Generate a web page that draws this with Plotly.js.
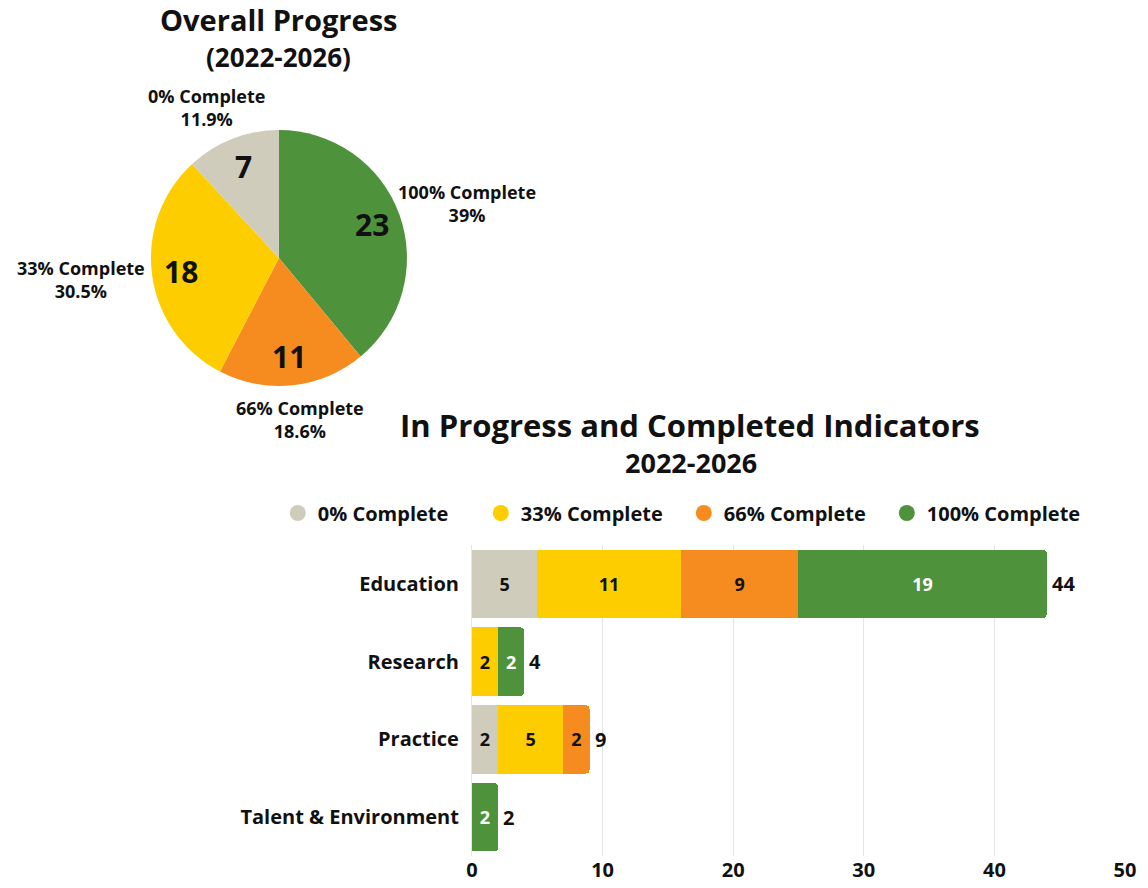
<!DOCTYPE html>
<html>
<head>
<meta charset="utf-8">
<script src="https://cdn.plot.ly/plotly-3.0.1.min.js"></script>
<style>
  html, body { margin: 0; padding: 0; background: #ffffff; }
  #chart { width: 1148px; height: 888px; }
</style>
</head>
<body>
<div id="chart"></div>
<script>
// Completion levels, shared by the pie and the stacked bars
const levels = ['0% Complete', '33% Complete', '66% Complete', '100% Complete'];
const levelColors = ['#cfccbc', '#fecd00', '#f68b1f', '#4f923c'];

// Overall indicator counts per completion level
const overallCounts = [7, 18, 11, 23];

// Indicator counts by area
const areas = ['Education', 'Research', 'Practice', 'Talent & Environment'];
const pct0 = [5, 0, 2, 0];
const pct33 = [11, 2, 5, 0];
const pct66 = [9, 0, 2, 0];
const pct100 = [19, 2, 0, 2];

const FONT = '"Open Sans", Lato, sans-serif';
const INK = '#111111';
const W = 1148, H = 888;

// Pie slices go clockwise from 12 o'clock: 100%, 66%, 33%, 0%
const pieOrder = [3, 2, 1, 0];
const pieLabels = pieOrder.map(i => levels[i]);
const pieValues = pieOrder.map(i => overallCounts[i]);
const pieColors = pieOrder.map(i => levelColors[i]);
const pieDomain = { x: [0.1315, 0.3545], y: [0.5653, 0.8536] };

const pieTrace = {
  type: 'pie',
  labels: pieLabels,
  values: pieValues,
  sort: false,
  direction: 'clockwise',
  rotation: 0,
  domain: pieDomain,
  marker: { colors: pieColors, line: { width: 0 } },
  textinfo: 'none',
  showlegend: false,
  hoverinfo: 'label+value+percent'
};

// Slice labels: counts inside, name + share outside, each placed on the slice's mid angle
function pctText(v) {
  let s = (v * 100).toPrecision(3);
  if (s.indexOf('.') !== -1) s = s.replace(/[.]?0+$/, '');
  return s + '%';
}
const pieCx = (pieDomain.x[0] + pieDomain.x[1]) / 2 * W;
const pieCy = (1 - (pieDomain.y[0] + pieDomain.y[1]) / 2) * H;
const pieR = Math.min((pieDomain.x[1] - pieDomain.x[0]) * W, (pieDomain.y[1] - pieDomain.y[0]) * H) / 2;
const pieTotal = pieValues.reduce((a, b) => a + b, 0);
const pieAnnotations = [];
let acc = 0;
pieValues.forEach((v, k) => {
  const mid = (acc + v / 2) / pieTotal * 2 * Math.PI;
  acc += v;
  const dx = Math.sin(mid), dy = -Math.cos(mid);
  // count inside the slice
  const ri = pieR * 0.77;
  pieAnnotations.push({
    text: String(v), xref: 'paper', yref: 'paper',
    x: (pieCx + dx * ri) / W, y: 1 - (pieCy + dy * ri) / H,
    xanchor: 'center', yanchor: 'middle', showarrow: false,
    font: { family: FONT, size: 30, color: INK, weight: 700 }
  });
  // name and share outside the slice
  const boxW = 136, boxH = 60, gap = 4;
  const px = pieCx + dx * (pieR + gap) + dx * boxW / 2;
  const py = pieCy + dy * (pieR + gap) + dy * boxH / 2;
  pieAnnotations.push({
    text: pieLabels[k] + '<br>' + pctText(v / pieTotal), xref: 'paper', yref: 'paper',
    x: px / W, y: 1 - py / H, align: 'center',
    xanchor: 'center', yanchor: 'middle', showarrow: false,
    font: { family: FONT, size: 18, color: INK, weight: 700 }
  });
});

// Stacked horizontal bars, one trace per completion level
const series = [pct0, pct33, pct66, pct100];
const barTraces = series.map((vals, i) => ({
  type: 'bar',
  orientation: 'h',
  name: levels[i],
  y: areas,
  x: vals,
  marker: { color: levelColors[i], line: { width: 0 } },
  text: vals.map(v => (v > 0 ? String(v) : '')),
  textposition: 'inside',
  insidetextanchor: 'middle',
  textangle: 0,
  constraintext: 'none',
  insidetextfont: { family: FONT, size: 18, weight: 700, color: i === 3 ? '#ffffff' : INK },
  showlegend: false,
  hoverinfo: 'name+x'
}));

// Totals printed just past the end of each bar
const totals = areas.map((_, k) => series.reduce((s, arr) => s + arr[k], 0));
const totalAnnotations = totals.map((t, k) => ({
  text: String(t), xref: 'x', yref: 'y', x: t, y: areas[k],
  xanchor: 'left', yanchor: 'middle', xshift: 3, showarrow: false,
  font: { family: FONT, size: 20, color: INK, weight: 700 }
}));

// Round legend markers
const legendTraces = levels.map((name, i) => ({
  type: 'scatter',
  mode: 'markers',
  name: name,
  x: [null],
  y: [null],
  marker: { color: levelColors[i], size: 17, symbol: 'circle' },
  hoverinfo: 'skip'
}));

const layout = {
  width: W,
  height: H,
  margin: { l: 0, r: 0, t: 0, b: 0 },
  paper_bgcolor: '#ffffff',
  plot_bgcolor: '#ffffff',
  font: { family: FONT, color: INK },
  barmode: 'stack',
  bargap: 0.12,
  barcornerradius: 4,
  showlegend: true,
  legend: {
    orientation: 'h',
    traceorder: 'normal',
    entrywidth: 158,
    entrywidthmode: 'pixels',
    x: 0.242,
    xanchor: 'left',
    y: 0.4223,
    yanchor: 'middle',
    font: { family: FONT, size: 20, color: INK, weight: 700 },
    itemclick: false,
    itemdoubleclick: false
  },
  xaxis: {
    domain: [0.4111, 0.98],
    anchor: 'y',
    range: [0, 50],
    tickvals: [0, 10, 20, 30, 40, 50],
    showgrid: true,
    gridcolor: '#e4e4e4',
    gridwidth: 1,
    zeroline: true,
    zerolinecolor: '#e4e4e4',
    zerolinewidth: 1,
    showline: false,
    ticks: '',
    tickfont: { family: FONT, size: 20, color: INK, weight: 700 },
    fixedrange: true
  },
  yaxis: {
    domain: [0.036, 0.3863],
    anchor: 'x',
    type: 'category',
    autorange: 'reversed',
    showgrid: false,
    zeroline: false,
    showline: false,
    ticks: '',
    ticklabelstandoff: 12,
    tickfont: { family: FONT, size: 20, color: INK, weight: 700 },
    fixedrange: true
  },
  annotations: [
    { text: 'Overall Progress', xref: 'paper', yref: 'paper', x: 0.243, y: 0.9775,
      xanchor: 'center', yanchor: 'middle', showarrow: false,
      font: { family: FONT, size: 29, color: INK, weight: 700 } },
    { text: '(2022-2026)', xref: 'paper', yref: 'paper', x: 0.243, y: 0.9358,
      xanchor: 'center', yanchor: 'middle', showarrow: false,
      font: { family: FONT, size: 26, color: INK, weight: 700 } },
    { text: 'In Progress and Completed Indicators', xref: 'paper', yref: 'paper', x: 0.601, y: 0.5214,
      xanchor: 'center', yanchor: 'middle', showarrow: false,
      font: { family: FONT, size: 31, color: INK, weight: 700 } },
    { text: '2022-2026', xref: 'paper', yref: 'paper', x: 0.602, y: 0.4797,
      xanchor: 'center', yanchor: 'middle', showarrow: false,
      font: { family: FONT, size: 27, color: INK, weight: 700 } }
  ].concat(pieAnnotations, totalAnnotations)
};

Plotly.newPlot('chart',
  [pieTrace].concat(barTraces, legendTraces),
  layout,
  { displayModeBar: false });
</script>
</body>
</html>
